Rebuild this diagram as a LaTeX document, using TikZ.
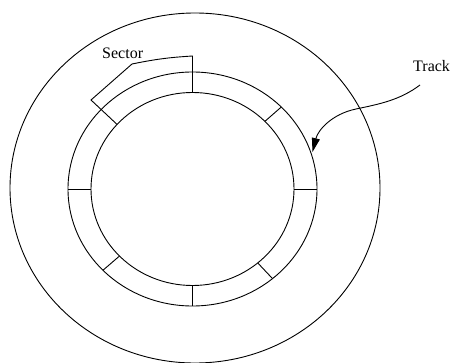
\documentclass[tikz,border=0pt]{standalone}
\usepackage{fontspec}
\setmainfont{Liberation Serif}
\usetikzlibrary{arrows.meta,calc}
\begin{document}
\begin{tikzpicture}[x=1pt,y=-1pt,
  ring/.style={draw=black,line width=0.9pt},
  tick/.style={draw=black,line width=0.9pt},
  lbl/.style={inner sep=0pt,font=\fontsize{16}{19}\selectfont,anchor=base west},
  pointer/.style={draw=black,line width=0.9pt,-{Triangle[length=14pt,width=8pt]}}]
\useasboundingbox (0,0) rectangle (452,363);
% centres
\coordinate (oc) at (195,188);
\coordinate (c) at (192.5,189);
% disks
\draw[ring] (oc) ellipse [x radius=185pt, y radius=175pt];
\draw[ring] (c) ellipse [x radius=124.5pt, y radius=117pt];
\draw[ring] (c) ellipse [x radius=101.5pt, y radius=96.5pt];
% sector boundaries
\foreach \a/\n in {0/r,44.5/ur,90/t,138/ul,180/l,224/ll,270/b,310/lr}{
  \coordinate (i\n) at ($(c)+(\a:101.5pt and 96.5pt)$);
  \coordinate (m\n) at ($(c)+(\a:124.5pt and 117pt)$);
}
\foreach \n in {r,ur,l,ll,b,lr}{\draw[tick] (i\n) -- (m\n);}
% sector bracket
\coordinate (bt) at (it |- 0,56);
\coordinate (bk) at (132,64);
\coordinate (bl) at (91,100);
\draw[tick] (it) -- (bt) to[bend right=4] (bk) -- (bl) -- (iul);
% labels
\node[lbl] (sector) at (102,58.5) {Sector};
\node[lbl] (track) at (413,72) {Track};
% track pointer
\coordinate (ps) at (420,85);
\coordinate (pt) at (312.5,152);
\draw[pointer] (ps) .. controls (400,100) and (380,104) .. (356,109)
  .. controls (332,114) and (318,130) .. (pt);
\end{tikzpicture}
\end{document}
